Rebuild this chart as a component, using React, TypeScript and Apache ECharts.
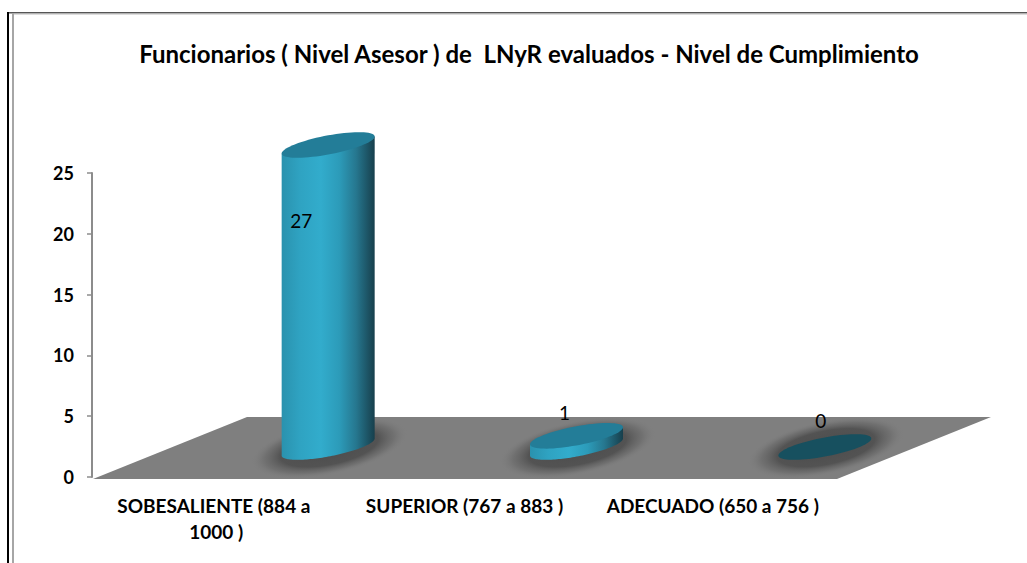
import React, { useEffect, useRef } from "react";
import * as echarts from "echarts";

const titleText = "Funcionarios ( Nivel Asesor ) de  LNyR evaluados - Nivel de Cumplimiento";
const categories = ["SOBESALIENTE (884 a 1000 )", "SUPERIOR (767 a 883 )", "ADECUADO (650 a 756 )"];
const values = [27, 1, 0];
const yTicks = { min: 0, max: 25, interval: 5 };

const FONT = "Lato, 'Open Sans', sans-serif";
// 3D projection of the picture: columns stand in the middle of a slanted floor.
const DEPTH_X = 154;
const DEPTH_Y = 62;
const BASE_DX = 112;
const BASE_DY = -30;
const HEIGHT_FACTOR = 0.92;
const RX = 46.5;
const RY = 9.6;
const SHEAR = 8.5;
const LABEL_OFFSETS = [
  [-27, 76],
  [-12, -23],
  [-4, -27],
];

function ellipsePoints(cx: number, cy: number, from = 0, to = Math.PI * 2, n = 72) {
  const pts: number[][] = [];
  for (let i = 0; i <= n; i++) {
    const t = from + ((to - from) * i) / n;
    pts.push([cx + RX * Math.cos(t), cy + RY * Math.sin(t) - SHEAR * Math.cos(t)]);
  }
  return pts;
}

const bodyGradient = () =>
  new echarts.graphic.LinearGradient(0, 0, 1, 0, [
    { offset: 0, color: "#2A92AE" },
    { offset: 0.2, color: "#2FA3C2" },
    { offset: 0.42, color: "#32ACCC" },
    { offset: 0.62, color: "#2C9BB9" },
    { offset: 0.8, color: "#26778F" },
    { offset: 1, color: "#173F4C" },
  ]);

const shadowGradient = () =>
  new echarts.graphic.RadialGradient(0.5, 0.5, 0.5, [
    { offset: 0, color: "rgba(70,70,70,0.9)" },
    { offset: 0.62, color: "rgba(75,75,75,0.85)" },
    { offset: 0.82, color: "rgba(100,100,100,0.55)" },
    { offset: 1, color: "rgba(127,127,127,0)" },
  ]);

function renderFloor(params: any) {
  const c = params.coordSys;
  const bottom = c.y + c.height + 2;
  const top = bottom - DEPTH_Y;
  return {
    type: "polygon",
    silent: true,
    shape: {
      points: [
        [c.x + 1, bottom],
        [c.x + 1 + DEPTH_X, top],
        [c.x + c.width + DEPTH_X, top],
        [c.x + c.width, bottom],
      ],
    },
    style: { fill: "#7F7F7F" },
  };
}

function renderColumn(params: any, api: any) {
  const idx = api.value(0);
  const val = api.value(1);
  const p0 = api.coord([idx, 0]);
  const pv = api.coord([idx, val]);
  const cx = p0[0] + BASE_DX;
  const baseY = p0[1] + BASE_DY;
  const topY = baseY - (p0[1] - pv[1]) * HEIGHT_FACTOR;
  const children: any[] = [
    {
      type: "ellipse",
      originX: cx + 1,
      originY: baseY + 1,
      rotation: 0.2,
      shape: { cx: cx + 1, cy: baseY + 1, rx: 80, ry: 27 },
      style: { fill: shadowGradient() },
    },
  ];
  if (val > 0) {
    const lower = ellipsePoints(cx, baseY, 0, Math.PI);
    children.push({
      type: "polygon",
      shape: { points: [[cx + RX, topY - SHEAR], ...lower, [cx - RX, topY + SHEAR]] },
      style: { fill: bodyGradient() },
    });
  }
  children.push({
    type: "polygon",
    shape: { points: ellipsePoints(cx, topY) },
    style: { fill: val > 0 ? "#237D98" : "#17505F" },
  });
  const off = LABEL_OFFSETS[idx];
  children.push({
    type: "text",
    style: {
      text: String(val),
      x: cx + off[0],
      y: topY + off[1],
      align: "center",
      verticalAlign: "middle",
      fill: "#000",
      font: `400 19px ${FONT}`,
    },
  });
  return { type: "group", children };
}

export default function App() {
  const ref = useRef<HTMLDivElement>(null);
  useEffect(() => {
    const chart = echarts.init(ref.current!, undefined, { renderer: "svg" });
    chart.setOption({
      animation: false,
      backgroundColor: "#fff",
      title: {
        text: titleText,
        left: 524,
        top: 36,
        textAlign: "center",
        textStyle: { fontFamily: FONT, fontSize: 24, fontWeight: 700, color: "#000" },
      },
      grid: { left: 92, top: 173, width: 745, height: 304, containLabel: false },
      xAxis: {
        type: "category",
        data: categories,
        axisLine: { show: false },
        axisTick: { show: false },
        axisLabel: {
          interval: 0,
          margin: 15,
          width: 215,
          overflow: "break",
          lineHeight: 26,
          color: "#000",
          fontFamily: FONT,
          fontSize: 19,
          fontWeight: 700,
        },
      },
      yAxis: {
        type: "value",
        min: yTicks.min,
        max: yTicks.max,
        interval: yTicks.interval,
        splitLine: { show: false },
        axisLine: { show: true, lineStyle: { color: "#8C8C8C", width: 2 } },
        axisTick: { show: true, length: 5, lineStyle: { color: "#8C8C8C", width: 1.5 } },
        axisLabel: {
          margin: 18,
          color: "#000",
          fontFamily: FONT,
          fontSize: 18,
          fontWeight: 700,
        },
      },
      graphic: [
        { type: "rect", silent: true, shape: { x: 7, y: 12, width: 1020, height: 1.5 }, style: { fill: "#555" } },
        { type: "rect", silent: true, shape: { x: 12, y: 13.5, width: 1015, height: 1 }, style: { fill: "#BBB" } },
        { type: "rect", silent: true, shape: { x: 7, y: 12, width: 2, height: 551 }, style: { fill: "#000" } },
        { type: "rect", silent: true, shape: { x: 12, y: 13, width: 2, height: 550 }, style: { fill: "#A6A6A6" } },
      ],
      series: [
        { type: "custom", silent: true, z: 1, data: [[0, 0]], renderItem: renderFloor },
        {
          type: "custom",
          silent: true,
          z: 2,
          data: values.map((v, i) => [i, v]),
          encode: { x: 0, y: 1 },
          renderItem: renderColumn,
        },
      ],
    });
    return () => chart.dispose();
  }, []);
  return (
    <div
      ref={ref}
      style={{ position: "absolute", left: 0, top: 0, width: 1027, height: 563 }}
    />
  );
}
